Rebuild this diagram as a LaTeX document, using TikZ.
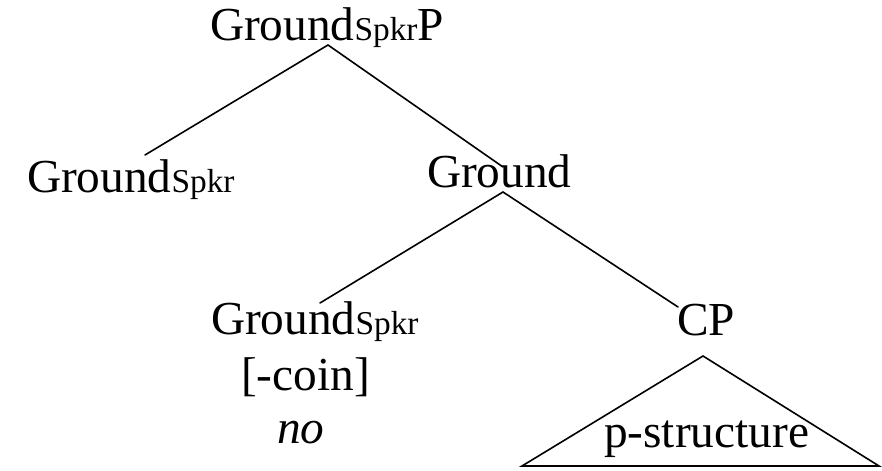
\documentclass[tikz,border=0pt]{standalone}
\usepackage{fontspec}
\setmainfont{Liberation Serif}
\newcommand{\spk}{{\fontsize{25pt}{25pt}\selectfont Spkr}}
\begin{document}
\begin{tikzpicture}[x=0.75pt,y=-0.75pt,
  lbl/.style={inner sep=0pt,outer sep=0pt,anchor=base west,font=\fontsize{35.5pt}{37pt}\selectfont},
  branch/.style={line width=1.2pt,line cap=round}]
\useasboundingbox (0,0) rectangle (882,471);
% labels
\node[lbl] (root) at (210,40) {Ground\spk P};
\node[lbl] (spkA) at (27,192) {Ground\spk};
\node[lbl] (grd) at (427,187) {Ground};
\node[lbl] (spkB) at (211,334) {Ground\spk};
\node[lbl] (coin) at (241,390) {[-coin]};
\node[lbl] (no) at (277,443) {\itshape no};
\node[lbl] (cp) at (677,335) {CP};
\node[lbl] (ps) at (604,447) {p-structure};
% branch points
\coordinate (rootA) at (328,45);
\coordinate (spkAt) at (145,155);
\coordinate (grdt) at (503,167);
\coordinate (grdA) at (503,192);
\coordinate (spkBt) at (320,303);
\coordinate (cpt) at (678,307);
\coordinate (cpA) at (703,356);
\coordinate (triL) at (522,466);
\coordinate (triR) at (879,466);
% branches
\draw[branch] (spkAt) -- (rootA) -- (grdt);
\draw[branch] (spkBt) -- (grdA) -- (cpt);
\draw[branch,line join=miter] (cpA) -- (triL) -- (triR) -- cycle;
\end{tikzpicture}
\end{document}
